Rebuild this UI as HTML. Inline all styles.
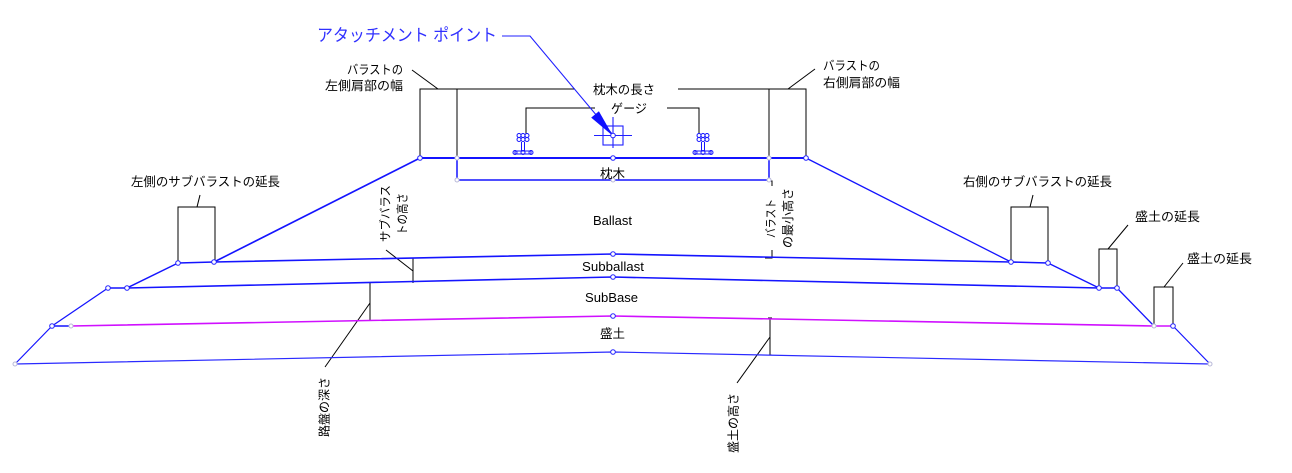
<!DOCTYPE html>
<html><head><meta charset="utf-8">
<style>
html,body{margin:0;padding:0;background:#fff;}
svg{display:block;}
text{font-family:"Liberation Sans","Noto Sans CJK JP",sans-serif;fill:#000;}
</style></head>
<body>
<svg width="1292" height="473" viewBox="0 0 1292 473" xmlns="http://www.w3.org/2000/svg">
<rect width="1292" height="473" fill="#fff"/>

<!-- ===== Black dimension / extension lines ===== -->
<g stroke="#000" stroke-width="1" fill="none">
  <!-- left shoulder + sleeper length -->
  <polyline points="420,158 420,89 575,89"/>
  <line x1="457" y1="89" x2="457" y2="158"/>
  <line x1="438" y1="89" x2="412" y2="70"/>
  <!-- right shoulder + sleeper length -->
  <polyline points="678,89 806,89 806,158"/>
  <line x1="769" y1="89" x2="769" y2="158"/>
  <line x1="788" y1="89" x2="815" y2="69"/>
  <!-- gauge -->
  <polyline points="526,134 526,108 595,108"/>
  <polyline points="667,108 699,108 699,134"/>
  <!-- left subballast extension -->
  <polyline points="178,263 178,207 215,207 215,262"/>
  <line x1="197" y1="207" x2="200" y2="195"/>
  <!-- right subballast extension -->
  <polyline points="1011,262 1011,207 1048,207 1048,263"/>
  <line x1="1030" y1="207" x2="1033" y2="195"/>
  <!-- embankment extension 1 -->
  <polyline points="1099,288 1099,249 1117,249 1117,288"/>
  <line x1="1108" y1="249" x2="1128" y2="225"/>
  <!-- embankment extension 2 -->
  <polyline points="1154,326 1154,287 1173,287 1173,326"/>
  <line x1="1164" y1="287" x2="1183" y2="263"/>
  <!-- subballast height -->
  <line x1="413" y1="258" x2="413" y2="283"/>
  <line x1="413" y1="271" x2="386" y2="250"/>
  <!-- ballast min height -->
  <polyline points="767,181 772,181 772,186"/>
  <polyline points="765,258 772,258 772,250"/>
  <!-- subbase depth -->
  <line x1="370" y1="283" x2="370" y2="320"/>
  <line x1="370" y1="303" x2="325" y2="367"/>
  <!-- embankment height -->
  <line x1="770" y1="318" x2="770" y2="355"/>
  <line x1="768" y1="318" x2="772" y2="318"/>
  <line x1="768" y1="355" x2="772" y2="355"/>
  <line x1="770" y1="337" x2="737" y2="383"/>
</g>

<!-- ===== Blue section geometry ===== -->
<g stroke="#1414ff" fill="none" stroke-linejoin="round">
  <!-- sleeper top -->
  <line x1="420" y1="158" x2="806" y2="158" stroke-width="2"/>
  <!-- sleeper box -->
  <polyline points="457,158 457,180 769,180 769,158" stroke-width="1.5"/>
  <!-- ballast slopes -->
  <line x1="420" y1="158" x2="214" y2="262" stroke-width="1.6"/>
  <line x1="806" y1="158" x2="1011" y2="262" stroke-width="1.3"/>
  <!-- ballast bottom / subballast top -->
  <polyline points="178,263 214,262 613,254 1011,262 1048,263" stroke-width="1.6"/>
  <!-- subballast bottom -->
  <polyline points="108,288 127,288 613,277 1099,288 1117,288" stroke-width="1.6"/>
  <!-- side slopes -->
  <line x1="178" y1="263" x2="127" y2="288" stroke-width="1.5"/>
  <line x1="108" y1="288" x2="52" y2="326" stroke-width="1.3"/>
  <line x1="52" y1="326" x2="71" y2="326" stroke-width="1.5"/>
  <line x1="52" y1="326" x2="15" y2="364" stroke-width="1.2"/>
  <line x1="1048" y1="263" x2="1099" y2="288" stroke-width="1.3"/>
  <line x1="1117" y1="288" x2="1154" y2="326" stroke-width="1.3"/>
  <line x1="1173" y1="326" x2="1210" y2="364" stroke-width="1.2"/>
  <!-- bottom -->
  <polyline points="15,364 613,352 1210,364" stroke-width="1.2" stroke="#2a2aff"/>
</g>
<!-- magenta subbase bottom -->
<polyline points="71,326 613,316 1154,326 1173,326" stroke="#d010ff" stroke-width="1.6" fill="none"/>

<!-- ===== Rails ===== -->
<g stroke="#1414ff" stroke-width="1" fill="none">
  <g transform="translate(523,0)">
    <circle cx="-4" cy="135.5" r="2"/><circle cx="0" cy="135.5" r="2"/><circle cx="4" cy="135.5" r="2"/>
    <circle cx="-4" cy="139.5" r="2"/><circle cx="0" cy="139.5" r="2"/><circle cx="4" cy="139.5" r="2"/>
    <line x1="-1.5" y1="142" x2="-1.5" y2="151"/><line x1="1.5" y1="142" x2="1.5" y2="151"/>
    <rect x="-8" y="151" width="16" height="3"/>
    <circle cx="-8" cy="152.5" r="2"/><circle cx="0" cy="152.5" r="2"/><circle cx="8" cy="152.5" r="2"/>
  </g>
  <g transform="translate(703,0)">
    <circle cx="-4" cy="135.5" r="2"/><circle cx="0" cy="135.5" r="2"/><circle cx="4" cy="135.5" r="2"/>
    <circle cx="-4" cy="139.5" r="2"/><circle cx="0" cy="139.5" r="2"/><circle cx="4" cy="139.5" r="2"/>
    <line x1="-1.5" y1="142" x2="-1.5" y2="151"/><line x1="1.5" y1="142" x2="1.5" y2="151"/>
    <rect x="-8" y="151" width="16" height="3"/>
    <circle cx="-8" cy="152.5" r="2"/><circle cx="0" cy="152.5" r="2"/><circle cx="8" cy="152.5" r="2"/>
  </g>
</g>

<!-- ===== Attachment point ===== -->
<g stroke="#2020ff" fill="none" stroke-width="1.1">
  <polyline points="502,36 530,36 613,135"/>
  <rect x="603" y="126" width="20" height="19"/>
  <line x1="594" y1="135.5" x2="632" y2="135.5"/>
  <line x1="613" y1="117" x2="613" y2="148"/>
</g>
<polygon points="613,136 598.9,111.2 591.2,117.6" fill="#1010ff"/>

<!-- ===== Vertex markers ===== -->
<g fill="#fff" stroke="#2424ff" stroke-width="1">
  <circle cx="420" cy="158" r="2.3"/><circle cx="613" cy="158" r="2.3"/><circle cx="806" cy="158" r="2.3"/>
  <circle cx="613" cy="135.5" r="2.3"/>
  <circle cx="178" cy="263" r="2.3"/><circle cx="214" cy="262" r="2.3"/><circle cx="613" cy="254" r="2.3"/>
  <circle cx="1011" cy="262" r="2.3"/><circle cx="1048" cy="263" r="2.3"/>
  <circle cx="108" cy="288" r="2.3"/><circle cx="127" cy="288" r="2.3"/><circle cx="613" cy="277" r="2.3"/>
  <circle cx="1099" cy="288" r="2.3"/><circle cx="1117" cy="288" r="2.3"/>
  <circle cx="52" cy="326" r="2.3"/><circle cx="613" cy="316" r="2.3"/><circle cx="1173" cy="326" r="2.3"/>
  <circle cx="613" cy="352" r="2.3"/>
</g>
<g fill="#fff" stroke="#b8b8d8" stroke-width="1">
  <circle cx="457" cy="158" r="2"/><circle cx="769" cy="158" r="2"/>
  <circle cx="457" cy="180" r="2"/><circle cx="613" cy="180" r="2"/><circle cx="769" cy="180" r="2"/>
  <circle cx="71" cy="326" r="2"/><circle cx="1154" cy="326" r="2"/>
  <circle cx="15" cy="364" r="2"/><circle cx="1210" cy="364" r="2"/>
</g>

<!-- ===== Text ===== -->
<text x="317" y="41" font-size="17" textLength="180" lengthAdjust="spacingAndGlyphs" style="fill:#3030ff">アタッチメント ポイント</text>

<g font-size="12.5">
  <text x="347" y="74" textLength="56" lengthAdjust="spacingAndGlyphs">バラストの</text>
  <text x="325" y="90" textLength="78" lengthAdjust="spacingAndGlyphs">左側肩部の幅</text>
  <text x="823" y="70" textLength="57" lengthAdjust="spacingAndGlyphs">バラストの</text>
  <text x="823" y="87" textLength="77" lengthAdjust="spacingAndGlyphs">右側肩部の幅</text>
  <text x="593" y="94" textLength="62" lengthAdjust="spacingAndGlyphs">枕木の長さ</text>
  <text x="611" y="113" textLength="36" lengthAdjust="spacingAndGlyphs">ゲージ</text>
  <text x="600" y="178" textLength="25" lengthAdjust="spacingAndGlyphs">枕木</text>
  <text x="131" y="186" textLength="149" lengthAdjust="spacingAndGlyphs">左側のサブバラストの延長</text>
  <text x="963" y="186" textLength="149" lengthAdjust="spacingAndGlyphs">右側のサブバラストの延長</text>
  <text x="1135" y="221" textLength="65" lengthAdjust="spacingAndGlyphs">盛土の延長</text>
  <text x="1187" y="263" textLength="65" lengthAdjust="spacingAndGlyphs">盛土の延長</text>
  <text x="600" y="338" textLength="25" lengthAdjust="spacingAndGlyphs">盛土</text>
</g>
<g font-size="13">
  <text x="593" y="225" textLength="39" lengthAdjust="spacingAndGlyphs">Ballast</text>
  <text x="582" y="271" textLength="62" lengthAdjust="spacingAndGlyphs">Subballast</text>
  <text x="585" y="302" textLength="53" lengthAdjust="spacingAndGlyphs">SubBase</text>
</g>

<!-- vertical labels (rotated -90) -->
<g font-size="12" text-anchor="middle">
  <text transform="translate(389.5,213.5) rotate(-90)" textLength="57" lengthAdjust="spacingAndGlyphs">サブバラス</text>
  <text transform="translate(406.5,214) rotate(-90)" textLength="42" lengthAdjust="spacingAndGlyphs">トの高さ</text>
  <text transform="translate(775,218.5) rotate(-90)" textLength="39" lengthAdjust="spacingAndGlyphs">バラスト</text>
  <text transform="translate(792,218) rotate(-90)" textLength="60" lengthAdjust="spacingAndGlyphs">の最小高さ</text>
  <text transform="translate(328.5,407) rotate(-90)" textLength="60" lengthAdjust="spacingAndGlyphs">路盤の深さ</text>
  <text transform="translate(737.5,423) rotate(-90)" textLength="60" lengthAdjust="spacingAndGlyphs">盛土の高さ</text>
</g>
</svg>
</body></html>
